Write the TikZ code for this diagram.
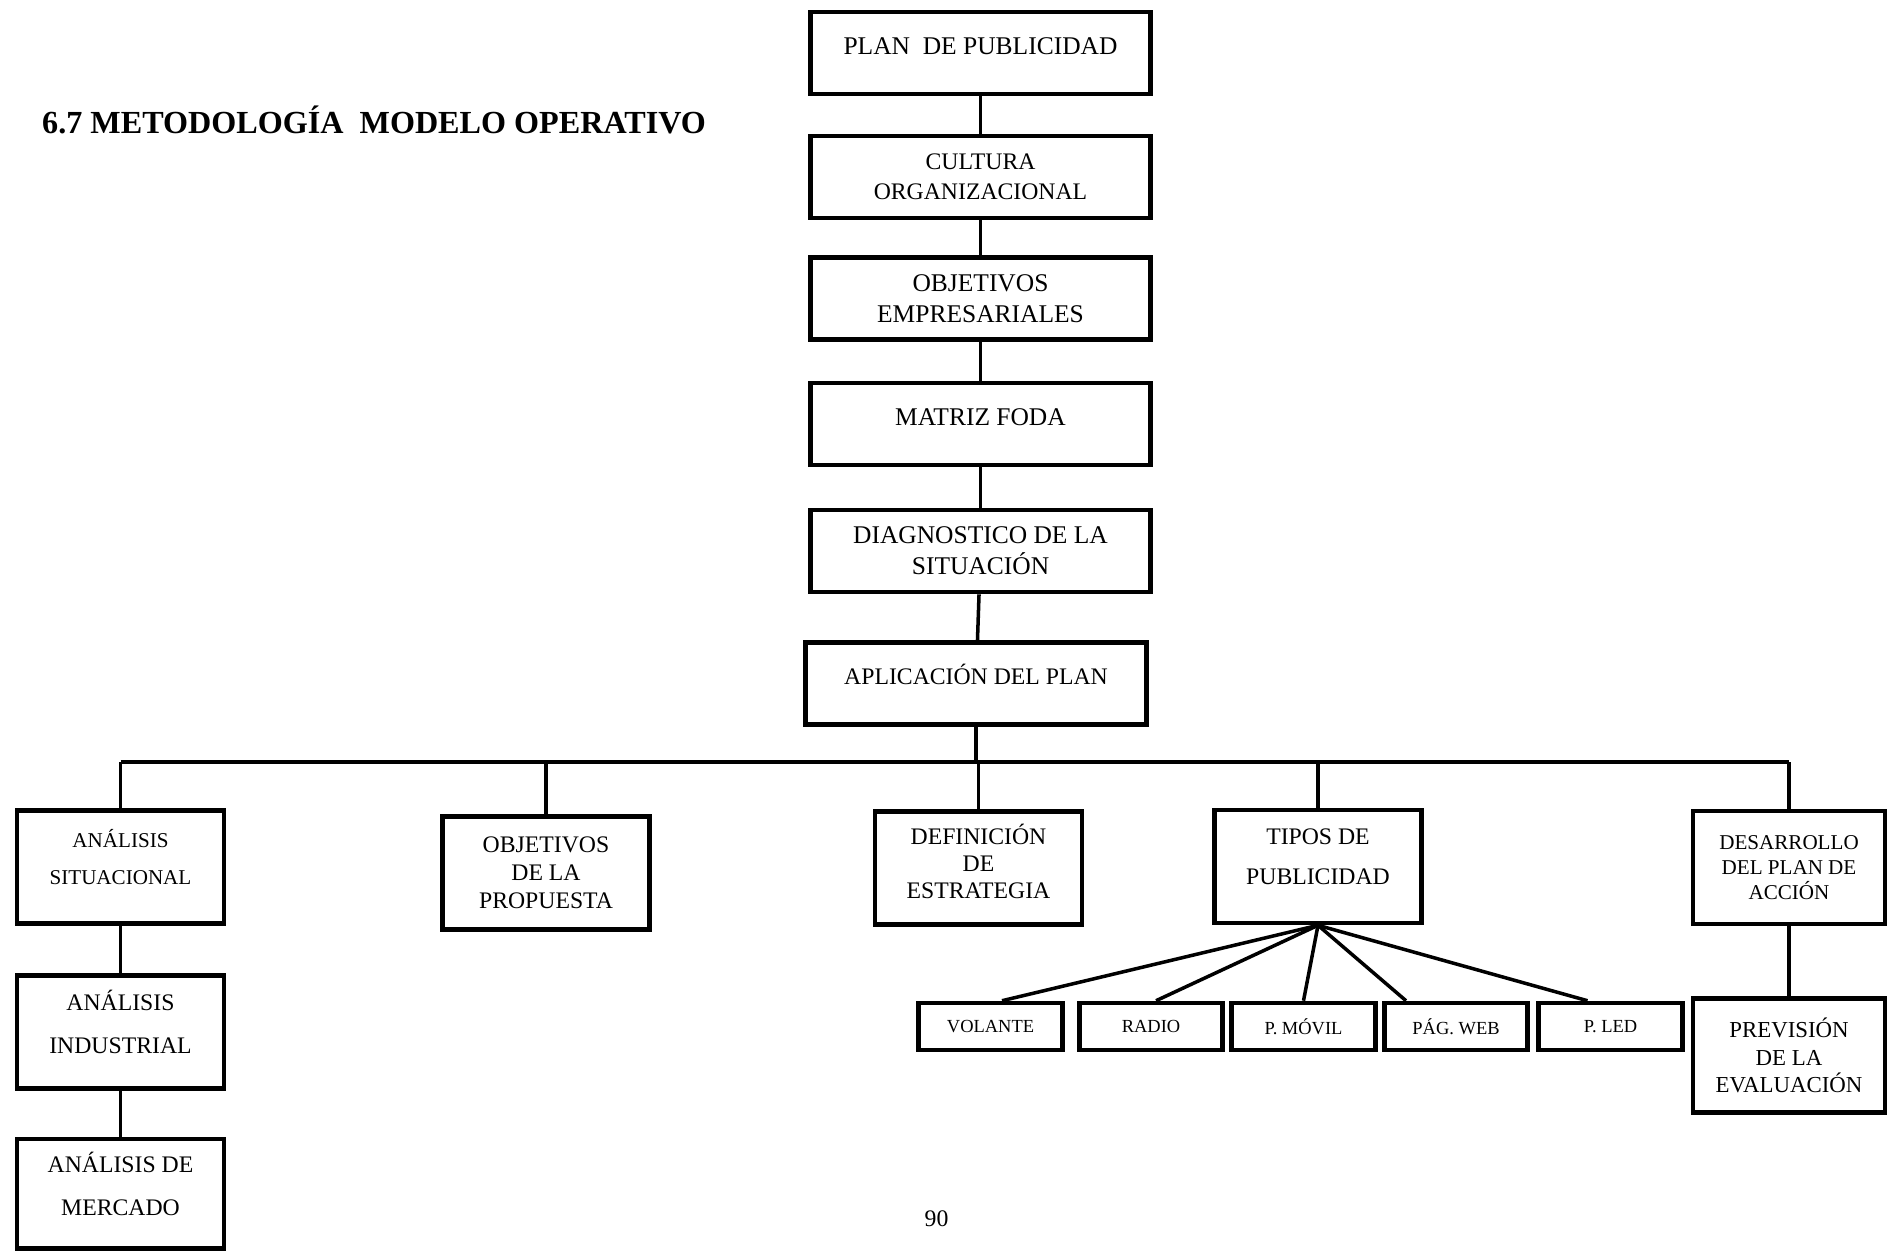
\documentclass[tikz,border=0pt]{standalone}
\usepackage{fontspec}
\setmainfont{Liberation Serif}

\begin{document}
\begin{tikzpicture}
\tikzstyle{caja alta}=[draw,line width=2.6pt,minimum width=6.81cm,minimum height=1.64cm,inner sep=0pt,align=center]
\tikzstyle{caja media}=[draw,line width=2.6pt,minimum width=4.14cm,minimum height=2.26cm,inner sep=0pt,align=center]
\tikzstyle{caja chica}=[draw,line width=2.6pt,minimum width=2.87cm,minimum height=0.94cm,inner sep=0pt,align=center,font=\fontsize{10.5}{12}\selectfont]
\tikzstyle{enlace}=[line width=2pt]

\useasboundingbox (0,0) rectangle (37.76,-25.0);

\node[anchor=west,font=\fontsize{18.3}{21}\selectfont\bfseries] (titulo) at (0.72,-2.39) {6.7 METODOLOGÍA~~MODELO OPERATIVO};

\node[caja alta,text depth=8pt,font=\fontsize{14.5}{17}\selectfont] (plan) at (19.61,-1.06) {PLAN~~DE PUBLICIDAD};
\node[caja alta,font=\fontsize{13.5}{17}\selectfont] (cultura) at (19.61,-3.54) {CULTURA\\ ORGANIZACIONAL};
\node[caja alta,font=\fontsize{14.5}{17.8}\selectfont] (objemp) at (19.61,-5.97) {OBJETIVOS\\ EMPRESARIALES};
\node[caja alta,text depth=8pt,font=\fontsize{14.5}{17}\selectfont] (foda) at (19.61,-8.48) {MATRIZ FODA};
\node[caja alta,font=\fontsize{14.5}{17.8}\selectfont] (diag) at (19.61,-11.02) {DIAGNOSTICO DE LA\\ SITUACIÓN};
\node[caja alta,text depth=10pt,font=\fontsize{13.5}{16}\selectfont] (aplic) at (19.52,-13.67) {APLICACIÓN DEL PLAN};

\node[caja media,text depth=11pt,font=\fontsize{12}{21}\selectfont] (sit) at (2.41,-17.34) {ANÁLISIS\\ SITUACIONAL};
\node[caja media,font=\fontsize{13.5}{16}\selectfont] (objprop) at (10.92,-17.46) {OBJETIVOS\\ DE LA\\ PROPUESTA};
\node[caja media,text depth=8pt,font=\fontsize{13.5}{15.4}\selectfont] (estrat) at (19.57,-17.36) {DEFINICIÓN\\ DE\\ ESTRATEGIA};
\node[caja media,text depth=11pt,font=\fontsize{13.5}{23}\selectfont] (tipos) at (26.36,-17.33) {TIPOS DE\\ PUBLICIDAD};
\node[caja media,minimum width=3.84cm,font=\fontsize{12}{14.3}\selectfont] (desarrollo) at (35.78,-17.35) {DESARROLLO\\ DEL PLAN DE\\ ACCIÓN};

\node[caja media,text depth=12pt,font=\fontsize{13.5}{24.6}\selectfont] (ind) at (2.41,-20.64) {ANÁLISIS\\ INDUSTRIAL};
\node[caja media,minimum height=2.19cm,text depth=11pt,font=\fontsize{13.5}{24.6}\selectfont] (merc) at (2.41,-23.875) {ANÁLISIS DE\\ MERCADO};
\node[caja media,minimum width=3.84cm,minimum height=2.29cm,font=\fontsize{13}{15.7}\selectfont] (prev) at (35.78,-21.11) {PREVISIÓN\\ DE LA\\ EVALUACIÓN};

\node[caja chica] (volante) at (19.81,-20.53) {VOLANTE};
\node[caja chica] (radio) at (23.02,-20.53) {RADIO};
\node[caja chica] (movil) at (26.07,-20.53) {P. MÓVIL};
\node[caja chica] (web) at (29.12,-20.53) {PÁG. WEB};
\node[caja chica] (led) at (32.21,-20.53) {P. LED};

\node[font=\fontsize{13.5}{16}\selectfont] (pagina) at (18.73,-24.37) {90};

\coordinate (barraI) at (2.41,-15.24);
\coordinate (barraD) at (35.78,-15.24);

\draw[enlace] (plan) -- (cultura);
\draw[enlace] (cultura) -- (objemp);
\draw[enlace] (objemp) -- (foda);
\draw[enlace] (foda) -- (diag);
\draw[enlace] (diag) -- (aplic);
\draw[enlace] (aplic) -- (aplic.south |- barraI);
\draw[enlace] (barraI) -- (barraD);
\draw[enlace] (sit.north |- barraI) -- (sit);
\draw[enlace] (objprop.north |- barraI) -- (objprop);
\draw[enlace] (estrat.north |- barraI) -- (estrat);
\draw[enlace] (tipos.north |- barraI) -- (tipos);
\draw[enlace] (barraD) -- (desarrollo);
\draw[enlace] (sit) -- (ind);
\draw[enlace] (ind) -- (merc);
\draw[enlace] (desarrollo) -- (prev);
\draw[enlace] (tipos.south) -- ([xshift=0.23cm]volante.north);
\draw[enlace] (tipos.south) -- ([xshift=0.1cm]radio.north);
\draw[enlace] (tipos.south) -- (movil.north);
\draw[enlace] (tipos.south) -- ([xshift=-1cm]web.north);
\draw[enlace] (tipos.south) -- ([xshift=-0.46cm]led.north);
\end{tikzpicture}
\end{document}
